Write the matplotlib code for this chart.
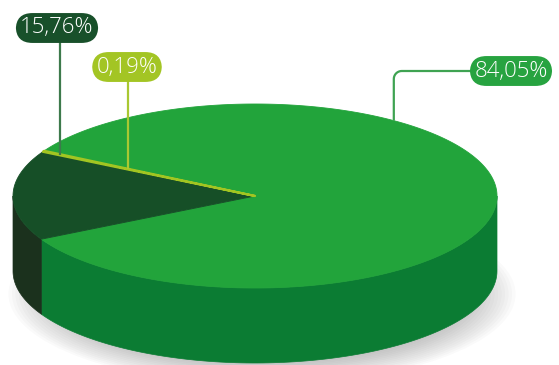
import numpy as np
import matplotlib.pyplot as plt
from matplotlib.patches import Polygon, Ellipse

plt.rcParams['font.family'] = ['Open Sans', 'DejaVu Sans']

# slice order is counterclockwise starting at the big slice
labels = ["84,05%", "0,19%", "15,76%"]
shares = [84.05, 0.19, 15.76]
top_colors = ["#22a43b", "#a2c522", "#164f27"]
side_colors = ["#0b7c33", "#7f9c1a", "#1b311d"]
box_colors = ["#27a340", "#a3c524", "#18502a"]
line_colors = ["#3fa352", "#a9c832", "#3d7a4c"]

# pixel geometry of the disc
cx, cy = 255, 196
rx, ry = 242, 92
depth = 75
start = 208.0


def rim(t, r=1.0, drop=0.0):
    t = np.radians(np.atleast_1d(t))
    return np.column_stack([cx + r * rx * np.cos(t), cy - r * ry * np.sin(t) + drop])


fig = plt.figure(figsize=(5.59, 3.65), dpi=100)
ax = fig.add_axes([0, 0, 1, 1])
ax.set_xlim(0, 559)
ax.set_ylim(365, 0)
ax.axis('off')

# soft floor shadow
for i in range(14):
    ax.add_patch(Ellipse((262, 294), 2 * (208 + i * 3.5), 2 * (70 + i * 1.6),
                         fc='#7a7a7a', ec='none', alpha=0.035, zorder=0))

spans = np.array(shares) / 100 * 360
edges = start + np.concatenate([[0], np.cumsum(spans)])

# outer walls for the part of each slice facing the viewer
for i in range(len(shares)):
    a0, a1 = edges[i], edges[i + 1]
    for k in range(-1, 3):
        lo, hi = max(a0, 180 + 360 * k), min(a1, 360 + 360 * k)
        if hi <= lo:
            continue
        t = np.linspace(lo, hi, 120)
        pts = np.vstack([rim(t), rim(t[::-1], drop=depth)])
        ax.add_patch(Polygon(pts, closed=True, fc=side_colors[i],
                             ec=side_colors[i], lw=0.5, zorder=2))

# top faces (the tiny slice gets a thicker outline so it stays visible)
for i in range(len(shares)):
    t = np.linspace(edges[i], edges[i + 1], max(int(spans[i] * 2), 4))
    pts = np.vstack([[cx, cy], rim(t)])
    z = 4 if shares[i] < 1 else 3
    ax.add_patch(Polygon(pts, closed=True, fc=top_colors[i], ec=top_colors[i],
                         lw=1.6 if shares[i] < 1 else 0.6, joinstyle='round',
                         zorder=z))

lime_mid = (edges[1] + edges[2]) / 2
big_anchor = rim(55.0)[0]
lime_outer = rim(lime_mid, r=0.92)[0]
lime_inner = rim(lime_mid, r=0.60)[0]

box = dict(boxstyle='round,pad=0.2,rounding_size=0.75', ec='none')
tkw = dict(ha='center', va='center', fontsize=16, fontweight='light',
           color='white', zorder=6)

# 84,05%
lx, ly = 511, 71
corner = 8
arc_t = np.linspace(90, 180, 12)
arc = np.column_stack([big_anchor[0] + corner + corner * np.cos(np.radians(arc_t)),
                       ly + corner - corner * np.sin(np.radians(arc_t))])
path = np.vstack([[lx - 40, ly], arc, [big_anchor[0], big_anchor[1]]])
ax.plot(path[:, 0], path[:, 1], color=line_colors[0], lw=1.6, zorder=4,
        solid_capstyle='butt')
ax.text(lx, ly, labels[0], bbox=dict(box, fc=box_colors[0]), **tkw)

# 15,76%
ax.plot([lime_outer[0], lime_outer[0]], [28, lime_outer[1]],
        color=line_colors[2], lw=1.6, zorder=5, solid_capstyle='butt')
ax.text(57, 28, labels[2], bbox=dict(box, fc=box_colors[2]), **tkw)

# 0,19%
ax.plot([lime_inner[0], lime_inner[0]], [67, lime_inner[1]],
        color=line_colors[1], lw=1.6, zorder=5, solid_capstyle='butt')
ax.text(127, 67, labels[1], bbox=dict(box, fc=box_colors[1]), **tkw)

fig.savefig('out.png', dpi=100)
